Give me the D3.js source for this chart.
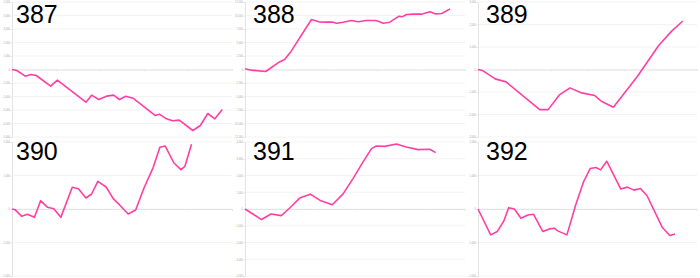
<!DOCTYPE html>
<html>
<head>
<meta charset="utf-8">
<script src="https://cdn.jsdelivr.net/npm/d3@7"></script>
<style>
  html, body { margin: 0; padding: 0; background: #fff; }
  svg { display: block; }
  .axis text { fill: #aaa; font-family: 'Liberation Sans', Arial, sans-serif; }
  .axis path, .axis line { stroke: #e4e4e4; }
  .grid line { stroke: #f3f3f3; }
  .title { font-family: 'Liberation Sans', Arial, sans-serif; font-size: 25px; fill: #000; }
</style>
</head>
<body>
<svg id="chart" width="700" height="278"></svg>
<script>
// panel titles
var titles = ['387', '388', '389', '390', '391', '392'];

// x extents and y extents / tick steps for each panel
var xMax = [50, 50, 60, 50, 60, 50];
var yMax = [5000, 12500, 3000, 2000, 4000, 2000];
var yStep = [1000, 2500, 1000, 1000, 1000, 1000];

// series values
var x387 = [0, 1.1, 3.0, 4.3, 5.5, 8.8, 10.3, 16.8, 18.1, 19.7, 21.5, 23.1, 24.4, 25.9, 27.5, 32.5, 33.5, 35.1, 36.5, 38.0, 41.1, 42.8, 44.5, 46.1, 47.8];
var y387 = [0, -74, -494, -370, -444, -1235, -790, -2420, -1900, -2222, -1975, -1900, -2222, -1975, -2123, -3407, -3309, -3654, -3802, -3753, -4518, -4148, -3259, -3654, -2963];

var x388 = [0, 1.4, 4.7, 7.5, 9.0, 10.5, 15.1, 16.8, 18.5, 20.0, 20.8, 22.3, 24.2, 25.7, 27.6, 29.5, 30.3, 31.4, 32.9, 35.0, 35.7, 36.7, 38.2, 40.1, 42.0, 43.2, 44.7, 46.6];
var y388 = [123, -123, -370, 1235, 1852, 3395, 9259, 8827, 8765, 8765, 8580, 8765, 9074, 8827, 9074, 9074, 8951, 8580, 8765, 9877, 9753, 10185, 10247, 10247, 10679, 10309, 10370, 11235];

var x389 = [0, 1.4, 4.7, 7.7, 16.9, 19.2, 22.3, 25.2, 28.4, 32.0, 33.8, 37.1, 40.5, 43.7, 49.5, 53.0, 56.1];
var y389 = [0, -59, -416, -550, -1783, -1783, -1129, -817, -1040, -1159, -1412, -1679, -966, -297, 1070, 1694, 2155];

var x390 = [0, 0.7, 2.2, 3.5, 5.1, 6.5, 8.1, 9.5, 11.1, 13.7, 15.1, 16.8, 18.1, 19.5, 21.4, 23.0, 24.4, 26.4, 28.1, 30.0, 32.1, 33.6, 34.8, 36.8, 38.4, 39.3, 40.8];
var y390 = [0, -20, -219, -159, -249, 249, 50, 10, -249, 647, 607, 328, 448, 826, 657, 308, 129, -149, -30, 627, 1244, 1841, 1881, 1373, 1174, 1274, 1930];

var x391 = [0, 4.5, 7.1, 9.9, 12.2, 14.9, 17.8, 20.5, 23.8, 26.7, 29.5, 32.2, 34.5, 35.8, 38.1, 41.3, 44.0, 47.2, 50.4, 52.0];
var y391 = [0, -630, -295, -394, 59, 650, 886, 512, 256, 886, 1831, 2815, 3602, 3760, 3740, 3878, 3701, 3543, 3563, 3366];

var x392 = [0, 2.9, 4.4, 5.9, 7.0, 8.3, 9.8, 11.4, 12.7, 14.8, 16.3, 17.4, 18.2, 20.3, 22.3, 24.1, 25.6, 26.9, 28.0, 29.4, 32.6, 34.1, 35.6, 37.1, 38.6, 42.1, 43.8, 45.0];
var y392 = [0, -772, -673, -356, 40, 0, -277, -178, -158, -673, -594, -574, -653, -772, 119, 812, 1208, 1238, 1168, 1426, 594, 653, 564, 614, 396, -554, -792, -743];

var xs = [x387, x388, x389, x390, x391, x392];
var ys = [y387, y388, y389, y390, y391, y392];

var panelX = [0, 233, 465];
var panelY = [0, 138];
var svg = d3.select('#chart');

function drawPanel(i) {
  var col = i % 3, row = Math.floor(i / 3);
  var left = col === 2 ? 13 : 12;
  var top = row === 0 ? 2 : 4;
  var bottom = row === 0 ? 137 : 138;
  var g = svg.append('g')
    .attr('transform', 'translate(' + panelX[col] + ',' + panelY[row] + ')');

  var x = d3.scaleLinear().domain([0, xMax[i]]).range([left, 232]);
  var y = d3.scaleLinear().domain([-yMax[i], yMax[i]]).range([bottom, top]);
  var yTicks = d3.range(-yMax[i], yMax[i] + 1, yStep[i]);
  var xTicks = d3.range(0, xMax[i] + 1, 10);

  g.append('g').attr('class', 'grid')
    .selectAll('line').data(yTicks).join('line')
    .attr('x1', left).attr('x2', 232)
    .attr('y1', function(d) { return y(d); })
    .attr('y2', function(d) { return y(d); });

  g.append('g').attr('class', 'axis')
    .attr('transform', 'translate(' + left + ',0)')
    .call(d3.axisLeft(y).tickValues(yTicks).tickSize(1.5).tickPadding(0.5))
    .call(function(a) { a.selectAll('text').attr('font-size', 2.6); });

  g.append('g').attr('class', 'axis')
    .attr('transform', 'translate(0,' + y(0) + ')')
    .call(d3.axisBottom(x).tickValues(xTicks).tickSize(1.5).tickFormat(''));

  var pts = xs[i].map(function(v, k) { return [v, ys[i][k]]; });
  g.append('path')
    .datum(pts)
    .attr('fill', 'none')
    .attr('stroke', '#ff3fa4')
    .attr('stroke-width', 1.6)
    .attr('stroke-linejoin', 'round')
    .attr('d', d3.line()
      .x(function(d) { return x(d[0]); })
      .y(function(d) { return y(d[1]); }));

  g.append('text').attr('class', 'title')
    .attr('x', left + (col === 0 ? 4 : 8))
    .attr('y', row === 0 ? 23 : 22)
    .text(titles[i]);
}

for (var i = 0; i < titles.length; i++) drawPanel(i);
</script>
</body>
</html>
